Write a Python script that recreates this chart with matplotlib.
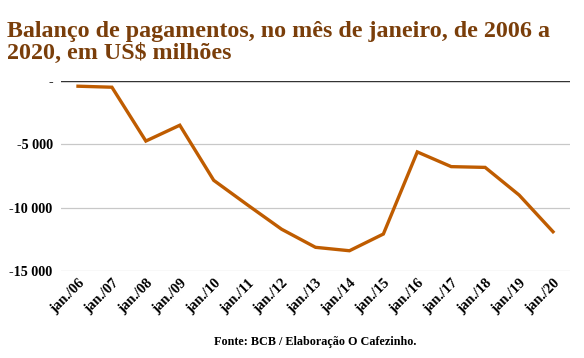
import matplotlib.pyplot as plt
from matplotlib.ticker import FuncFormatter

# Balanço de pagamentos em janeiro, US$ milhões
labels = ['jan./06', 'jan./07', 'jan./08', 'jan./09', 'jan./10', 'jan./11', 'jan./12',
          'jan./13', 'jan./14', 'jan./15', 'jan./16', 'jan./17', 'jan./18', 'jan./19',
          'jan./20']
values = [-410, -490, -4740, -3490, -7840, -9790, -11700,
          -13130, -13400, -12080, -5600, -6760, -6820, -9000, -11900]
y_ticks = [0, -5000, -10000, -15000]

plt.rcParams['font.family'] = ['Liberation Serif', 'DejaVu Serif']
plt.rcParams['font.weight'] = 'bold'

fig = plt.figure(figsize=(5.84, 3.58), dpi=100)
ax = fig.add_axes([0.1045, 0.243, 0.8715, 0.5307])

x = list(range(len(labels)))
ax.plot(x, values, color='#BF5C00', linewidth=2.4, solid_joinstyle='miter', zorder=3)

ax.set_xlim(-0.5, len(labels) - 0.5)
ax.set_ylim(-15000, 0)
ax.set_yticks(y_ticks)


def fmt(v, pos):
    if v == 0:
        return '-'
    return f'{int(v):,}'.replace(',', ' ')


ax.yaxis.set_major_formatter(FuncFormatter(fmt))
ax.set_xticks(x)
ax.set_xticklabels(labels, rotation=45, ha='right', rotation_mode='anchor')
ax.tick_params(axis='y', length=0, labelsize=10.2, colors='black', pad=6)
ax.tick_params(axis='x', length=0, labelsize=10.5, colors='black', pad=4)

ax.grid(axis='y', color='#C8C8C8', linewidth=0.9)
ax.axhline(0, color='#333333', linewidth=1.0, zorder=2)
for s in ax.spines.values():
    s.set_visible(False)

fig.text(0.012, 0.94, 'Balanço de pagamentos, no mês de janeiro, de 2006 a\n2020, em US$ milhões',
         ha='left', va='top', fontsize=17.3, fontweight='bold', color='#7A3E0A',
         linespacing=1.05)
fig.text(0.539, 0.045, 'Fonte: BCB / Elaboração O Cafezinho.', ha='center', va='center',
         fontsize=8.7, fontweight='bold')

fig.savefig('out.png', dpi=100)
